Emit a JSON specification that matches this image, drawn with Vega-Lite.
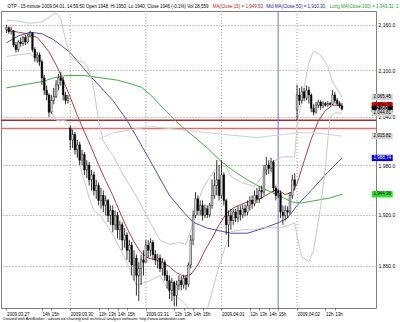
{
"$schema":"https://vega.github.io/schema/vega-lite/v6.json",
"width":375,"height":297,
"autosize":{"type":"none"},
"padding":{"left":1,"top":11,"right":24,"bottom":14},
"background":"white",
"config":{"view":{"stroke":"#808080","strokeWidth":1},"font":"Liberation Sans"},
"resolve":{"axis":{"x":"independent"},"scale":{"fill":"independent","stroke":"independent"}},
"datasets":{
"days":[{"i":32},{"i":64},{"i":96},{"i":128}],
"cursor":[{"i":120}],
"levels":[{"k":"a","v":2035.8},{"k":"b","v":2025.4}],
"tags":[{"k":"BBU","v":2065.45,"t":"2,065.45"},{"k":"MA15","v":2054.7,"t":"2,054.73"},{"k":"C","v":2050,"t":"2,050"},{"k":"BBL","v":2044.81,"t":"2,044.81"},{"k":"G2","v":2015.82,"t":"2,015.82"},{"k":"MA50","v":1988.74,"t":"1,988.74"},{"k":"MA100","v":1944.36,"t":"1,944.36"}],
"candles":[
{"i":5,"o":2153,"h":2160,"l":2149,"c":2156},{"i":6,"o":2156,"h":2158,"l":2148,"c":2151},{"i":7,"o":2151,"h":2157,"l":2147,"c":2153},{"i":8,"o":2152,"h":2153,"l":2130,"c":2133},{"i":9,"o":2133,"h":2137,"l":2123,"c":2127},{"i":10,"o":2127,"h":2140,"l":2124,"c":2137},{"i":11,"o":2137,"h":2143,"l":2131,"c":2135},{"i":12,"o":2135,"h":2145,"l":2132,"c":2143},{"i":13,"o":2143,"h":2147,"l":2133,"c":2137},{"i":14,"o":2137,"h":2148,"l":2135,"c":2145},{"i":15,"o":2145,"h":2152,"l":2143,"c":2149},{"i":16,"o":2149,"h":2150,"l":2124,"c":2127},{"i":17,"o":2127,"h":2130,"l":2111,"c":2116},{"i":18,"o":2116,"h":2124,"l":2110,"c":2120},{"i":19,"o":2120,"h":2123,"l":2106,"c":2111},{"i":20,"o":2111,"h":2114,"l":2081,"c":2090},{"i":21,"o":2090,"h":2094,"l":2068,"c":2074},{"i":22,"o":2074,"h":2080,"l":2061,"c":2068},{"i":23,"o":2068,"h":2070,"l":2040,"c":2046},{"i":24,"o":2046,"h":2068,"l":2044,"c":2061},{"i":25,"o":2061,"h":2077,"l":2056,"c":2066},{"i":26,"o":2066,"h":2087,"l":2064,"c":2081},{"i":27,"o":2081,"h":2095,"l":2074,"c":2090},{"i":28,"o":2090,"h":2098,"l":2080,"c":2087},{"i":29,"o":2087,"h":2091,"l":2061,"c":2068},{"i":30,"o":2068,"h":2072,"l":2056,"c":2061},{"i":31,"o":2061,"h":2068,"l":2057,"c":2064},
{"i":32,"o":2026,"h":2029,"l":1999,"c":2011},{"i":33,"o":2011,"h":2024,"l":2001,"c":2018},{"i":34,"o":2018,"h":2021,"l":1993,"c":1999},{"i":35,"o":1999,"h":2011,"l":1989,"c":2005},{"i":36,"o":2005,"h":2009,"l":1980,"c":1986},{"i":37,"o":1986,"h":1999,"l":1980,"c":1993},{"i":38,"o":1993,"h":1996,"l":1968,"c":1974},{"i":39,"o":1974,"h":1986,"l":1964,"c":1980},{"i":40,"o":1980,"h":1984,"l":1955,"c":1962},{"i":41,"o":1962,"h":1974,"l":1949,"c":1968},{"i":42,"o":1968,"h":1972,"l":1943,"c":1949},{"i":43,"o":1949,"h":1962,"l":1939,"c":1955},{"i":44,"o":1955,"h":1959,"l":1931,"c":1937},{"i":45,"o":1937,"h":1952,"l":1927,"c":1943},{"i":46,"o":1943,"h":1949,"l":1923,"c":1931},{"i":47,"o":1931,"h":1943,"l":1919,"c":1937},{"i":48,"o":1937,"h":1939,"l":1911,"c":1919},{"i":49,"o":1919,"h":1931,"l":1908,"c":1925},{"i":50,"o":1925,"h":1931,"l":1899,"c":1908},{"i":51,"o":1908,"h":1925,"l":1902,"c":1919},{"i":52,"o":1919,"h":1923,"l":1892,"c":1902},{"i":53,"o":1902,"h":1913,"l":1890,"c":1908},{"i":54,"o":1908,"h":1911,"l":1878,"c":1890},{"i":55,"o":1890,"h":1904,"l":1881,"c":1896},{"i":56,"o":1896,"h":1899,"l":1867,"c":1878},{"i":57,"o":1878,"h":1890,"l":1864,"c":1884},{"i":58,"o":1884,"h":1888,"l":1849,"c":1861},{"i":59,"o":1861,"h":1878,"l":1843,"c":1869},{"i":60,"o":1869,"h":1873,"l":1826,"c":1849},{"i":61,"o":1849,"h":1864,"l":1820,"c":1857},{"i":62,"o":1857,"h":1873,"l":1838,"c":1867},{"i":63,"o":1867,"h":1878,"l":1849,"c":1864},
{"i":64,"o":1864,"h":1890,"l":1864,"c":1884},{"i":65,"o":1884,"h":1890,"l":1869,"c":1878},{"i":66,"o":1878,"h":1892,"l":1871,"c":1887},{"i":67,"o":1887,"h":1890,"l":1867,"c":1873},{"i":68,"o":1873,"h":1878,"l":1861,"c":1867},{"i":69,"o":1867,"h":1874,"l":1857,"c":1869},{"i":70,"o":1869,"h":1873,"l":1853,"c":1857},{"i":71,"o":1857,"h":1869,"l":1849,"c":1864},{"i":72,"o":1864,"h":1867,"l":1843,"c":1849},{"i":73,"o":1849,"h":1855,"l":1834,"c":1843},{"i":74,"o":1843,"h":1849,"l":1822,"c":1832},{"i":75,"o":1832,"h":1846,"l":1820,"c":1841},{"i":76,"o":1841,"h":1843,"l":1814,"c":1826},{"i":77,"o":1826,"h":1843,"l":1814,"c":1838},{"i":78,"o":1838,"h":1849,"l":1832,"c":1843},{"i":79,"o":1843,"h":1848,"l":1832,"c":1838},{"i":80,"o":1838,"h":1850,"l":1834,"c":1846},{"i":81,"o":1846,"h":1849,"l":1832,"c":1839},{"i":82,"o":1839,"h":1864,"l":1836,"c":1861},{"i":83,"o":1861,"h":1896,"l":1857,"c":1890},{"i":84,"o":1890,"h":1925,"l":1884,"c":1919},{"i":85,"o":1919,"h":1947,"l":1916,"c":1939},{"i":86,"o":1939,"h":1943,"l":1919,"c":1925},{"i":87,"o":1925,"h":1937,"l":1919,"c":1931},{"i":88,"o":1931,"h":1937,"l":1913,"c":1919},{"i":89,"o":1919,"h":1932,"l":1916,"c":1927},{"i":90,"o":1927,"h":1931,"l":1916,"c":1920},{"i":91,"o":1920,"h":1934,"l":1917,"c":1931},{"i":92,"o":1931,"h":1962,"l":1927,"c":1943},{"i":93,"o":1943,"h":1971,"l":1939,"c":1955},{"i":94,"o":1955,"h":1986,"l":1943,"c":1962},{"i":95,"o":1962,"h":1980,"l":1937,"c":1943},
{"i":96,"o":1943,"h":1986,"l":1939,"c":1968},{"i":97,"o":1968,"h":1971,"l":1931,"c":1937},{"i":98,"o":1937,"h":1939,"l":1896,"c":1908},{"i":99,"o":1908,"h":1925,"l":1882,"c":1919},{"i":100,"o":1919,"h":1927,"l":1902,"c":1913},{"i":101,"o":1913,"h":1927,"l":1908,"c":1923},{"i":102,"o":1923,"h":1927,"l":1911,"c":1916},{"i":103,"o":1916,"h":1930,"l":1911,"c":1925},{"i":104,"o":1925,"h":1931,"l":1913,"c":1920},{"i":105,"o":1920,"h":1932,"l":1916,"c":1927},{"i":106,"o":1927,"h":1932,"l":1918,"c":1923},{"i":107,"o":1923,"h":1937,"l":1919,"c":1931},{"i":108,"o":1931,"h":1942,"l":1925,"c":1937},{"i":109,"o":1937,"h":1943,"l":1927,"c":1933},{"i":110,"o":1933,"h":1949,"l":1930,"c":1943},{"i":111,"o":1943,"h":1952,"l":1934,"c":1939},{"i":112,"o":1939,"h":1954,"l":1934,"c":1949},{"i":113,"o":1949,"h":1955,"l":1939,"c":1947},{"i":114,"o":1947,"h":1980,"l":1943,"c":1974},{"i":115,"o":1974,"h":1990,"l":1968,"c":1980},{"i":116,"o":1980,"h":1986,"l":1969,"c":1976},{"i":117,"o":1976,"h":1989,"l":1971,"c":1984},{"i":118,"o":1984,"h":1986,"l":1947,"c":1952},{"i":119,"o":1952,"h":1955,"l":1937,"c":1943},{"i":120,"o":1948,"h":1950,"l":1940,"c":1946},{"i":121,"o":1946,"h":1949,"l":1916,"c":1923},{"i":122,"o":1923,"h":1931,"l":1908,"c":1919},{"i":123,"o":1919,"h":1931,"l":1913,"c":1925},{"i":124,"o":1925,"h":1930,"l":1916,"c":1923},{"i":125,"o":1923,"h":1947,"l":1920,"c":1943},{"i":126,"o":1943,"h":1968,"l":1939,"c":1962},{"i":127,"o":1962,"h":1970,"l":1949,"c":1955},
{"i":128,"o":2049,"h":2081,"l":2036,"c":2068},{"i":129,"o":2068,"h":2077,"l":2055,"c":2061},{"i":130,"o":2061,"h":2079,"l":2057,"c":2072},{"i":131,"o":2072,"h":2077,"l":2060,"c":2064},{"i":132,"o":2064,"h":2080,"l":2061,"c":2074},{"i":133,"o":2074,"h":2079,"l":2057,"c":2068},{"i":134,"o":2068,"h":2070,"l":2046,"c":2051},{"i":135,"o":2051,"h":2056,"l":2042,"c":2046},{"i":136,"o":2046,"h":2059,"l":2044,"c":2055},{"i":137,"o":2055,"h":2062,"l":2051,"c":2059},{"i":138,"o":2059,"h":2061,"l":2049,"c":2054},{"i":139,"o":2054,"h":2060,"l":2051,"c":2057},{"i":140,"o":2057,"h":2059,"l":2053,"c":2055},{"i":141,"o":2055,"h":2060,"l":2053,"c":2057},{"i":142,"o":2057,"h":2059,"l":2054,"c":2056},{"i":143,"o":2056,"h":2074,"l":2055,"c":2068},{"i":144,"o":2068,"h":2072,"l":2057,"c":2061},{"i":145,"o":2061,"h":2064,"l":2054,"c":2057},{"i":146,"o":2057,"h":2060,"l":2051,"c":2054},{"i":147,"o":2054,"h":2058,"l":2048,"c":2050}
],
"lines":[
{"s":"MA15","i":5,"v":2153},{"s":"MA15","i":10,"v":2150},{"s":"MA15","i":14,"v":2148},{"s":"MA15","i":18,"v":2143},{"s":"MA15","i":20,"v":2136},{"s":"MA15","i":23,"v":2124},{"s":"MA15","i":26,"v":2107},{"s":"MA15","i":29,"v":2087},{"s":"MA15","i":32,"v":2065},{"s":"MA15","i":35,"v":2042},{"s":"MA15","i":38,"v":2021},{"s":"MA15","i":41,"v":2001},{"s":"MA15","i":44,"v":1980},{"s":"MA15","i":47,"v":1961},{"s":"MA15","i":50,"v":1943},{"s":"MA15","i":53,"v":1923},{"s":"MA15","i":56,"v":1904},{"s":"MA15","i":59,"v":1888},{"s":"MA15","i":62,"v":1875},{"s":"MA15","i":65,"v":1869},{"s":"MA15","i":68,"v":1867},{"s":"MA15","i":71,"v":1864},{"s":"MA15","i":74,"v":1859},{"s":"MA15","i":77,"v":1852},{"s":"MA15","i":80,"v":1848},{"s":"MA15","i":83,"v":1850},{"s":"MA15","i":86,"v":1861},{"s":"MA15","i":89,"v":1878},{"s":"MA15","i":92,"v":1892},{"s":"MA15","i":95,"v":1908},{"s":"MA15","i":98,"v":1921},{"s":"MA15","i":101,"v":1928},{"s":"MA15","i":104,"v":1932},{"s":"MA15","i":107,"v":1935},{"s":"MA15","i":110,"v":1937},{"s":"MA15","i":113,"v":1940},{"s":"MA15","i":116,"v":1945},{"s":"MA15","i":119,"v":1950},{"s":"MA15","i":120,"v":1949.5},{"s":"MA15","i":123,"v":1944},{"s":"MA15","i":126,"v":1947},{"s":"MA15","i":128,"v":1957},{"s":"MA15","i":131,"v":1985},{"s":"MA15","i":134,"v":2012},{"s":"MA15","i":137,"v":2035},{"s":"MA15","i":140,"v":2048},{"s":"MA15","i":143,"v":2055},{"s":"MA15","i":147,"v":2054.7},
{"s":"MA50","i":5,"v":2136},{"s":"MA50","i":10,"v":2145},{"s":"MA50","i":15,"v":2150},{"s":"MA50","i":20,"v":2148},{"s":"MA50","i":25,"v":2140},{"s":"MA50","i":32,"v":2123},{"s":"MA50","i":40,"v":2094},{"s":"MA50","i":50,"v":2061},{"s":"MA50","i":56,"v":2036},{"s":"MA50","i":62,"v":2005},{"s":"MA50","i":68,"v":1974},{"s":"MA50","i":74,"v":1943},{"s":"MA50","i":80,"v":1923},{"s":"MA50","i":84,"v":1911},{"s":"MA50","i":90,"v":1904},{"s":"MA50","i":100,"v":1898},{"s":"MA50","i":107,"v":1898},{"s":"MA50","i":114,"v":1904},{"s":"MA50","i":120,"v":1910.3},{"s":"MA50","i":124,"v":1916},{"s":"MA50","i":128,"v":1931},{"s":"MA50","i":134,"v":1949},{"s":"MA50","i":140,"v":1968},{"s":"MA50","i":147,"v":1988.74},
{"s":"MA100","i":5,"v":2077},{"s":"MA100","i":12,"v":2081},{"s":"MA100","i":20,"v":2085},{"s":"MA100","i":25,"v":2090},{"s":"MA100","i":30,"v":2093},{"s":"MA100","i":38,"v":2093},{"s":"MA100","i":45,"v":2090},{"s":"MA100","i":52,"v":2087},{"s":"MA100","i":58,"v":2082},{"s":"MA100","i":62,"v":2078},{"s":"MA100","i":66,"v":2068},{"s":"MA100","i":72,"v":2049},{"s":"MA100","i":78,"v":2031},{"s":"MA100","i":84,"v":2016},{"s":"MA100","i":90,"v":2001},{"s":"MA100","i":96,"v":1984},{"s":"MA100","i":102,"v":1971},{"s":"MA100","i":108,"v":1960},{"s":"MA100","i":114,"v":1951},{"s":"MA100","i":120,"v":1943.3},{"s":"MA100","i":126,"v":1935},{"s":"MA100","i":130,"v":1934},{"s":"MA100","i":136,"v":1937},{"s":"MA100","i":142,"v":1940},{"s":"MA100","i":147,"v":1944.36},
{"s":"BBU","i":5,"v":2166},{"s":"BBU","i":10,"v":2165},{"s":"BBU","i":15,"v":2162},{"s":"BBU","i":18,"v":2163},{"s":"BBU","i":20,"v":2164},{"s":"BBU","i":22,"v":2168},{"s":"BBU","i":24,"v":2172},{"s":"BBU","i":26,"v":2176},{"s":"BBU","i":28,"v":2168},{"s":"BBU","i":30,"v":2140},{"s":"BBU","i":32,"v":2118},{"s":"BBU","i":34,"v":2113},{"s":"BBU","i":36,"v":2112},{"s":"BBU","i":38,"v":2110},{"s":"BBU","i":40,"v":2100},{"s":"BBU","i":42,"v":2075},{"s":"BBU","i":44,"v":2035},{"s":"BBU","i":46,"v":2010},{"s":"BBU","i":48,"v":2000},{"s":"BBU","i":50,"v":1992},{"s":"BBU","i":55,"v":1965},{"s":"BBU","i":60,"v":1942},{"s":"BBU","i":65,"v":1915},{"s":"BBU","i":70,"v":1890},{"s":"BBU","i":74,"v":1885},{"s":"BBU","i":78,"v":1887},{"s":"BBU","i":81,"v":1885},{"s":"BBU","i":84,"v":1910},{"s":"BBU","i":86,"v":1935},{"s":"BBU","i":88,"v":1951},{"s":"BBU","i":91,"v":1965},{"s":"BBU","i":95,"v":1980},{"s":"BBU","i":98,"v":1978},{"s":"BBU","i":100,"v":1966},{"s":"BBU","i":105,"v":1958},{"s":"BBU","i":110,"v":1954},{"s":"BBU","i":114,"v":1968},{"s":"BBU","i":118,"v":1985},{"s":"BBU","i":122,"v":1990},{"s":"BBU","i":127,"v":1990},{"s":"BBU","i":128,"v":2030},{"s":"BBU","i":130,"v":2062},{"s":"BBU","i":133,"v":2110},{"s":"BBU","i":135,"v":2125},{"s":"BBU","i":138,"v":2120},{"s":"BBU","i":140,"v":2110},{"s":"BBU","i":141,"v":2105},{"s":"BBU","i":143,"v":2085},{"s":"BBU","i":145,"v":2075},{"s":"BBU","i":147,"v":2065.45},
{"s":"BBL","i":5,"v":2118},{"s":"BBL","i":10,"v":2120},{"s":"BBL","i":15,"v":2122},{"s":"BBL","i":18,"v":2112},{"s":"BBL","i":20,"v":2100},{"s":"BBL","i":22,"v":2075},{"s":"BBL","i":24,"v":2045},{"s":"BBL","i":26,"v":2036},{"s":"BBL","i":28,"v":2035},{"s":"BBL","i":30,"v":2036},{"s":"BBL","i":32,"v":2030},{"s":"BBL","i":34,"v":2005},{"s":"BBL","i":36,"v":1981},{"s":"BBL","i":38,"v":1960},{"s":"BBL","i":40,"v":1940},{"s":"BBL","i":42,"v":1925},{"s":"BBL","i":45,"v":1918},{"s":"BBL","i":48,"v":1905},{"s":"BBL","i":50,"v":1896},{"s":"BBL","i":55,"v":1870},{"s":"BBL","i":60,"v":1838},{"s":"BBL","i":65,"v":1842},{"s":"BBL","i":70,"v":1849},{"s":"BBL","i":74,"v":1830},{"s":"BBL","i":78,"v":1823},{"s":"BBL","i":81,"v":1815},{"s":"BBL","i":84,"v":1806},{"s":"BBL","i":86,"v":1795},{"s":"BBL","i":88,"v":1791},{"s":"BBL","i":91,"v":1820},{"s":"BBL","i":95,"v":1860},{"s":"BBL","i":98,"v":1885},{"s":"BBL","i":100,"v":1900},{"s":"BBL","i":105,"v":1902},{"s":"BBL","i":110,"v":1902},{"s":"BBL","i":114,"v":1905},{"s":"BBL","i":118,"v":1905},{"s":"BBL","i":122,"v":1905},{"s":"BBL","i":127,"v":1910},{"s":"BBL","i":128,"v":1895},{"s":"BBL","i":130,"v":1870},{"s":"BBL","i":133,"v":1865},{"s":"BBL","i":135,"v":1878},{"s":"BBL","i":138,"v":1930},{"s":"BBL","i":140,"v":1977},{"s":"BBL","i":141,"v":2010},{"s":"BBL","i":142,"v":2040},{"s":"BBL","i":144,"v":2045},{"s":"BBL","i":147,"v":2044.81},
{"s":"G2","i":44,"v":2012},{"s":"G2","i":50,"v":2020},{"s":"G2","i":66,"v":2028},{"s":"G2","i":90,"v":2020},{"s":"G2","i":111,"v":2014},{"s":"G2","i":128,"v":2020},{"s":"G2","i":136,"v":2020},{"s":"G2","i":147,"v":2015.82}
]
},
"layer":[
{"data":{"name":"days"},"mark":{"type":"rule","color":"#a0a0a0","strokeDash":[1,2],"strokeWidth":1},
 "encoding":{"x":{"field":"i","type":"quantitative","scale":{"type":"linear","domain":[4.8,159.3],"nice":false,"zero":false},"axis":null}}},
{"data":{"name":"levels"},"mark":{"type":"rule","strokeWidth":1.6},
 "encoding":{"y":{"field":"v","type":"quantitative","scale":{"type":"log","domain":[1812,2178.5],"nice":false},"title":null},
 "stroke":{"field":"k","type":"nominal","scale":{"domain":["a","b"],"range":["#b02828","#d87070"]},"legend":null}}},
{"data":{"name":"cursor"},"mark":{"type":"rule","color":"#7070d0","strokeWidth":1},
 "encoding":{"x":{"field":"i","type":"quantitative","scale":{"type":"linear","domain":[4.8,159.3],"nice":false,"zero":false},"axis":null}}},
{"data":{"name":"lines"},"mark":{"type":"line","strokeWidth":1,"clip":true},
 "encoding":{"x":{"field":"i","type":"quantitative","scale":{"type":"linear","domain":[4.8,159.3],"nice":false,"zero":false},
   "axis":{"orient":"top","values":[5.2,92.1,114.8,141.6],"labelExpr":"datum.value < 50 ? 'OTP - 15-minute 2009.04.01. 14:59:50 Open 1948, Hi 1950, Lo 1940, Close 1946 (-0.1%) Vol 28,559' : datum.value < 100 ? 'MA(Close,15) = 1,949.53,' : datum.value < 130 ? 'Mid MA(Close,50) = 1,910.30,' : 'Long MA(Close,100) = 1,943.32, 2'",
   "labelColor":{"condition":[{"test":"datum.value > 90 && datum.value < 100","value":"#c02020"},{"test":"datum.value > 110 && datum.value < 120","value":"#2020a0"},{"test":"datum.value > 140","value":"#20a020"}],"value":"#000000"},
   "labelAlign":"left","labelFontSize":4.5,"labelPadding":3,"labelLimit":500,"labelOverlap":false,"labelFlush":false,"ticks":false,"domain":false,"grid":false,"title":null}},
 "y":{"field":"v","type":"quantitative","scale":{"type":"log","domain":[1812,2178.5],"nice":false},"title":null},
 "stroke":{"field":"s","type":"nominal","scale":{"domain":["BBU","BBL","G2","MA100","MA50","MA15"],"range":["#c8c8c8","#c8c8c8","#d0d0d0","#40b040","#5050a8","#b04040"]},"legend":null}}},
{"data":{"name":"candles"},"mark":{"type":"rule","color":"#000000","strokeWidth":0.8},
 "encoding":{"x":{"field":"i","type":"quantitative","scale":{"type":"linear","domain":[4.8,159.3],"nice":false,"zero":false},
   "axis":{"orient":"bottom","values":[5,20,24,32,44,48,52,56,64,76,80,84,88,96,108,112,116,120,128,140,144],
   "labelExpr":"['2009.03.27','14h','15h','2009.03.30','12h','13h','14h','15h','2009.03.31','12h','13h','14h','15h','2009.04.01','12h','13h','14h','15h','2009.04.02','12h','13h'][indexof([5,20,24,32,44,48,52,56,64,76,80,84,88,96,108,112,116,120,128,140,144], datum.value)]",
   "labelAlign":"left","labelBaseline":"top","labelFontSize":4.5,"labelPadding":1,"labelOverlap":false,"labelFlush":false,"labelColor":"#000000",
   "ticks":true,"tickSize":2,"tickColor":"#000000","tickWidth":0.5,"domain":false,"grid":false,
   "title":"Created with AmiBroker - advanced charting and technical analysis software. http://www.amibroker.com","titleFontSize":4,"titleFontWeight":"normal","titleAnchor":"start","titleAlign":"left","titleX":1,"titleY":10,"titleBaseline":"middle","titleColor":"#000000"}},
 "y":{"field":"l","type":"quantitative","scale":{"type":"log","domain":[1812,2178.5],"nice":false},
   "axis":{"orient":"right","values":[1860,1920,1980,2040,2100,2160],"format":",.1f","grid":true,"gridDash":[1,2],"gridColor":"#909090","gridOpacity":1,"ticks":false,"domain":false,"labelFontSize":5,"labelPadding":2,"labelColor":"#000000","title":null}},
 "y2":{"field":"h"}}},
{"data":{"name":"candles"},"mark":{"type":"bar","width":1.6,"stroke":"#000000","strokeWidth":0.5},
 "encoding":{"x":{"field":"i","type":"quantitative","scale":{"type":"linear","domain":[4.8,159.3],"nice":false,"zero":false},"axis":null},
 "y":{"field":"o","type":"quantitative","scale":{"type":"log","domain":[1812,2178.5],"nice":false},"title":null},
 "y2":{"field":"c"},
 "fill":{"condition":{"test":"datum.c >= datum.o","value":"#ffffff"},"value":"#000000"}}},
{"data":{"name":"tags"},"mark":{"type":"point","shape":"M-1,-0.3H1V0.3H-1Z","size":441,"filled":true,"opacity":1,"strokeWidth":0},
 "encoding":{"x":{"datum":164.04,"type":"quantitative","scale":{"type":"linear","domain":[4.8,159.3],"nice":false,"zero":false},"axis":null},
 "y":{"field":"v","type":"quantitative","scale":{"type":"log","domain":[1812,2178.5],"nice":false},"title":null},
 "fill":{"field":"k","type":"nominal","scale":{"domain":["BBU","MA15","C","BBL","G2","MA50","MA100"],"range":["#d4d4d4","#e00000","#000000","#d4d4d4","#d4d4d4","#0000e0","#30e030"]},"legend":null}}},
{"data":{"name":"tags"},"mark":{"type":"text","fontSize":4.5,"align":"center","baseline":"middle"},
 "encoding":{"x":{"datum":164.04,"type":"quantitative","scale":{"type":"linear","domain":[4.8,159.3],"nice":false,"zero":false},"axis":null},
 "y":{"field":"v","type":"quantitative","scale":{"type":"log","domain":[1812,2178.5],"nice":false},"title":null},
 "text":{"field":"t"},
 "fill":{"field":"k","type":"nominal","scale":{"domain":["BBU","MA15","C","BBL","G2","MA50","MA100"],"range":["#000000","#300000","#ffffff","#000000","#000000","#ffffff","#000000"]},"legend":null}}}
]
}
